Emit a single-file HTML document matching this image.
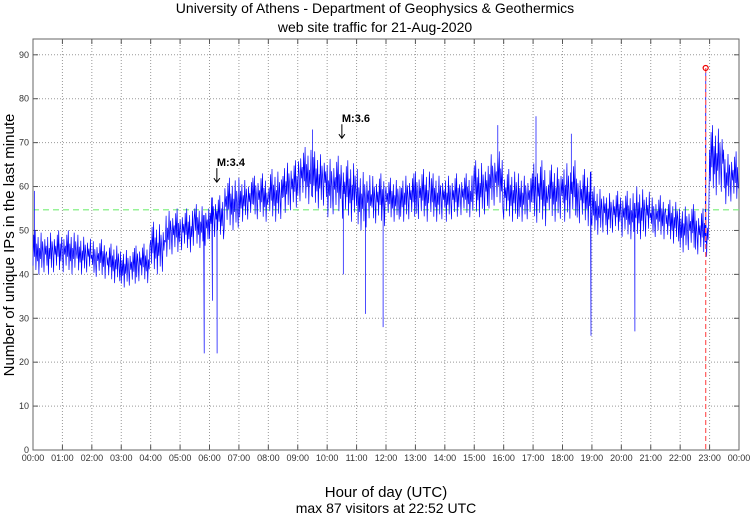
<!DOCTYPE html>
<html><head><meta charset="utf-8"><style>
body{margin:0;background:#fff;font-family:"Liberation Sans",sans-serif}
svg text{font-family:"Liberation Sans",sans-serif}
</style></head><body>
<svg id="chart" width="750" height="515">
<text x="375" y="13" text-anchor="middle" font-size="14">University of Athens - Department of Geophysics &amp; Geothermics</text>
<text x="375" y="32" text-anchor="middle" font-size="14">web site traffic for 21-Aug-2020</text>
<text transform="translate(14,245) rotate(-90)" text-anchor="middle" font-size="15">Number of unique IPs in the last minute</text>
<text x="386" y="497" text-anchor="middle" font-size="15">Hour of day (UTC)</text>
<text x="386" y="513" text-anchor="middle" font-size="14">max 87 visitors at 22:52 UTC</text>
<g id="grid"></g><g id="series"></g><g id="overlay"></g>
</svg>
<script>
const binLows=[40,40,40,40,39,38,37,38,40,44,45,46,48,50,52,52,52,54,56,55,53,52,50,51,52,52,52,52,52,53,53,55,52,52,51,52,52,51,49,49,48,48,48,47,45,44,58,56];
const binHighs=[50,50,50,49,48,47,46,47,52,55,55,56,58,62,62,63,64,66,69,68,67,66,64,63,62,63,64,63,63,63,66,68,64,63,66,65,66,64,60,59,59,60,58,57,56,55,74,68];
const spikeHours=[0.05,5.82,6.1,6.26,9.5,10.55,11.3,11.9,15.8,17.1,18.3,18.97,20.46,22.87];
const spikeValues=[59,22,34,22,73,40,31,28,74,76,72,26,27,87];
const yTicks=[0,10,20,30,40,50,60,70,80,90];
const xTickLabels=["00:00","01:00","02:00","03:00","04:00","05:00","06:00","07:00","08:00","09:00","10:00","11:00","12:00","13:00","14:00","15:00","16:00","17:00","18:00","19:00","20:00","21:00","22:00","23:00","00:00"];
const meanValue=54.7, maxHour=22.867, maxValue=87;
const L=33,R=739,T=39,B=450,YMAX=93.6;
const X=h=>L+(R-L)*h/24, Y=v=>B-(B-T)*v/YMAX;
const NS="http://www.w3.org/2000/svg";
function mk(tag,attrs,parent){const e=document.createElementNS(NS,tag);for(const k in attrs)e.setAttribute(k,attrs[k]);parent.appendChild(e);return e;}
const grid=document.getElementById('grid'),ser=document.getElementById('series'),ov=document.getElementById('overlay');
yTicks.forEach(v=>{
 if(v>0){const g=mk('line',{x1:L,x2:R,y1:Y(v),y2:Y(v),stroke:'#999','stroke-dasharray':'1,2','stroke-width':1},grid);
 }
 mk('line',{x1:L,x2:L+5,y1:Y(v),y2:Y(v),stroke:'#555'},grid);mk('line',{x1:R-5,x2:R,y1:Y(v),y2:Y(v),stroke:'#555'},grid);
 const t=mk('text',{x:L-4,y:Y(v)+3,'text-anchor':'end','font-size':9,fill:'#333'},grid);t.textContent=v;
 
});
xTickLabels.forEach((s,i)=>{
 const x=X(i);
 if(i>0&&i<24){const g=mk('line',{x1:x,x2:x,y1:T,y2:B,stroke:'#999','stroke-dasharray':'1,2'},grid);
 }
 mk('line',{x1:x,x2:x,y1:B-5,y2:B,stroke:'#555'},grid);mk('line',{x1:x,x2:x,y1:T,y2:T+5,stroke:'#555'},grid);
 const t=mk('text',{x:x,y:B+11,'text-anchor':'middle','font-size':9,fill:'#333'},grid);t.textContent=s;
 
});
const frame=mk('rect',{x:L,y:T,width:R-L,height:B-T,fill:'none',stroke:'#666','stroke-width':1},grid);

const ml=mk('line',{x1:L,x2:R,y1:Y(meanValue),y2:Y(meanValue),stroke:'#7e7','stroke-dasharray':'6,4','stroke-width':1.2},ser);

const pat=[0.2,0.9,0.4,1,0.1,0.7,0.3,0.85,0,0.6,0.35,0.95,0.15,0.75,0.5,0.05,0.8,0.45,0.65];
const PER=20;
let d='';
binLows.forEach((lo,i)=>{const hi=binHighs[i];
 for(let k=0;k<PER;k++){const h=(i+k/PER)/2;const f=pat[(k+i*7)%pat.length];const v=lo+(hi-lo)*f;
 d+=(d?'L':'M')+X(h).toFixed(1)+','+Y(v).toFixed(1);
 const si=spikeHours.findIndex(sh=>sh>=h&&sh<h+0.5/PER);
 if(si>=0){const xs=X(spikeHours[si]);d+='L'+xs.toFixed(1)+','+Y(spikeValues[si]).toFixed(1)+'L'+xs.toFixed(1)+','+Y(v).toFixed(1);}
 }});
const p=mk('path',{d:d,fill:'none',stroke:'#00f','stroke-width':0.7},ser);

const rl=mk('line',{x1:X(maxHour),x2:X(maxHour),y1:Y(maxValue),y2:B,stroke:'#f66','stroke-dasharray':'5,3','stroke-width':1.3},ov);

const rc=mk('circle',{cx:X(maxHour),cy:Y(maxValue),r:2.5,fill:'none',stroke:'#e00','stroke-width':1.2},ov);

[[6.25,61,'M:3.4'],[10.5,71,'M:3.6']].forEach(a=>{
 const x=X(a[0]),y=Y(a[1]);
 const t=mk('text',{x:x,y:y-16,'font-size':11,'font-weight':'bold'},ov);t.textContent=a[2];
 
 mk('path',{d:`M${x},${y-14}L${x},${y}M${x-3},${y-4}L${x},${y}L${x+3},${y-4}`,stroke:'#000',fill:'none'},ov);
});
</script>
</body></html>
